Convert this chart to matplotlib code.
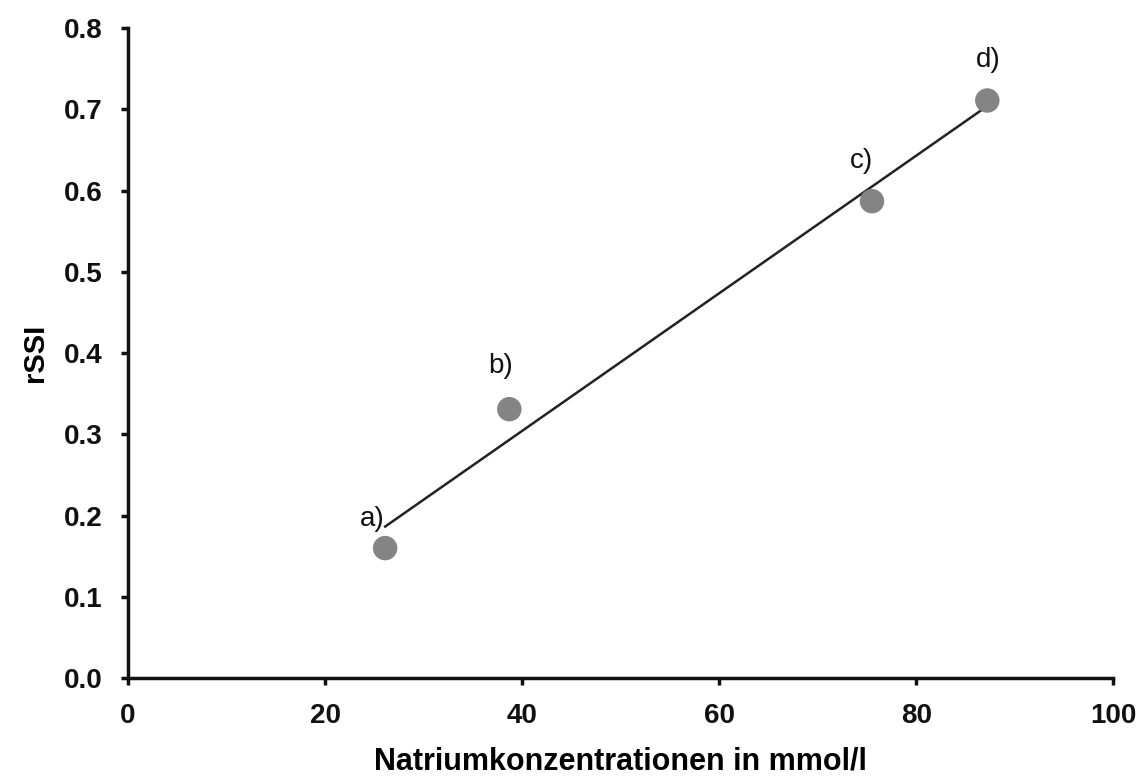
import numpy as np
import matplotlib
matplotlib.use("Agg")
import matplotlib.pyplot as plt

# sodium concentration (mmol/l) vs rSSI
natrium = [26.1, 38.7, 75.5, 87.2]
rssi = [0.160, 0.331, 0.587, 0.711]
labels = ["a)", "b)", "c)", "d)"]
# label offsets in pixels (dx, dy)
offsets = [(-13, 29), (-9, 43), (-10, 40), (1, 40)]

plt.rcParams['font.family'] = ['Liberation Sans', 'DejaVu Sans']

fig = plt.figure(figsize=(11.42, 7.83), dpi=100)
ax = fig.add_axes([0.112, 0.134, 0.863, 0.830])

# linear regression line over the data range
slope, intercept = np.polyfit(natrium, rssi, 1)
xfit = np.array([min(natrium), max(natrium)])
ax.plot(xfit, slope * xfit + intercept, color='#222222', lw=1.8, zorder=2)

ax.scatter(natrium, rssi, s=310, color='#848484', edgecolors='none', zorder=3)

for x, y, lab, (dx, dy) in zip(natrium, rssi, labels, offsets):
    ax.annotate(lab, (x, y), xytext=(dx * 0.72, dy * 0.72), textcoords='offset points',
                ha='center', va='center', fontsize=20, color='#111111')

ax.set_xlim(0, 100)
ax.set_ylim(0, 0.8)
ax.set_xticks(np.arange(0, 101, 20))
ax.set_yticks(np.arange(0, 0.81, 0.1))
ax.set_yticklabels([f"{v:.1f}" for v in np.arange(0, 0.81, 0.1)])

for s in ['top', 'right']:
    ax.spines[s].set_visible(False)
for s in ['left', 'bottom']:
    ax.spines[s].set_linewidth(2.5)
    ax.spines[s].set_color('#111111')

ax.tick_params(direction='out', length=5, width=2.5, colors='#111111', labelsize=20, pad=13)
for t in ax.get_xticklabels() + ax.get_yticklabels():
    t.set_fontweight('bold')

ax.set_ylabel('rSSI', fontsize=21, fontweight='bold', va='center')
ax.yaxis.set_label_coords(-0.094, 0.5)
ax.set_xlabel('Natriumkonzentrationen in mmol/l', fontsize=22, fontweight='bold', va='center')
ax.xaxis.set_label_coords(0.5, -0.128)

fig.savefig('out.png', dpi=100)
